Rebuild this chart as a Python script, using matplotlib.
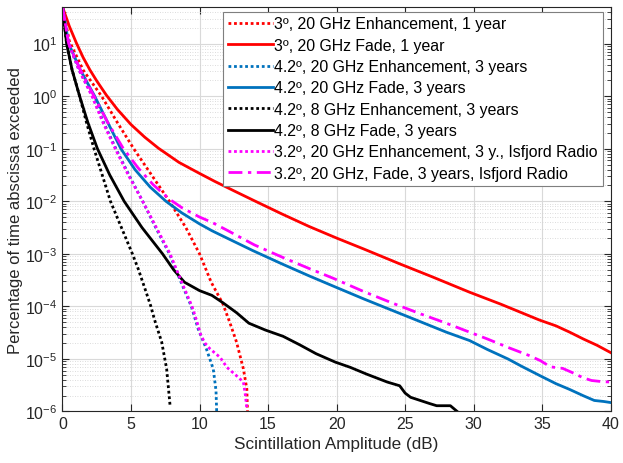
import numpy as np
import matplotlib
matplotlib.use("Agg")
import matplotlib.pyplot as plt
from matplotlib.ticker import FixedLocator, NullFormatter

plt.rcParams["font.family"] = ["Liberation Sans", "DejaVu Sans"]
plt.rcParams["mathtext.fontset"] = "custom"
plt.rcParams["mathtext.rm"] = "Liberation Sans"

# Данные: амплитуда (дБ) и log10 процента времени
red_dot_x = [0, 0.5, 1.5, 2.85, 4.0, 5.2, 6.5, 7.8, 9.0, 10.0, 10.85, 11.7, 12.2, 12.7, 13.2, 13.45, 13.5]
red_dot_y = [1.70, 1.05, 0.5, 0.0, -0.5, -1.0, -1.5, -2.0, -2.5, -3.0, -3.54, -3.95, -4.3, -4.68, -5.19, -5.57, -6.0]

red_x = [0, 0.5, 1.0, 1.5, 2.0, 2.5, 3.2, 4.0, 5.0, 6.0, 7.0, 8.5, 10, 11.1, 12.5, 14, 16, 18, 20, 22,
         24.6, 27, 29.7, 32, 34.8, 36, 37, 38, 39, 40]
red_y = [1.70, 1.33, 1.02, 0.74, 0.50, 0.29, 0.02, -0.25, -0.54, -0.78, -0.99, -1.26, -1.47, -1.62, -1.80,
         -1.99, -2.24, -2.48, -2.70, -2.91, -3.19, -3.44, -3.73, -3.96, -4.26, -4.37, -4.49, -4.62, -4.74, -4.88]

blue_dot_x = [0, 0.45, 1.2, 2.2, 3.0, 3.9, 4.85, 5.85, 6.8, 7.8, 8.65, 9.4, 9.9, 10.5, 11.0, 11.2, 11.25]
blue_dot_y = [1.70, 1.0, 0.5, 0.0, -0.5, -1.0, -1.5, -2.0, -2.5, -3.0, -3.54, -4.0, -4.43, -4.81, -5.19, -5.6, -6.0]

blue_x = [0, 0.45, 1.3, 2.35, 3.3, 4.26, 5.3, 6.4, 7.55, 8.7, 10, 10.9, 12, 13.9, 16, 18, 19.9, 22, 24, 26.1,
          28, 29.7, 31, 32.5, 33.5, 34.85, 36, 37, 38, 38.8, 39.5, 40]
blue_y = [1.70, 1.0, 0.5, 0.0, -0.5, -1.0, -1.4, -1.73, -2.0, -2.22, -2.43, -2.56, -2.70, -2.94, -3.19, -3.42,
          -3.63, -3.86, -4.07, -4.29, -4.49, -4.65, -4.82, -5.0, -5.14, -5.32, -5.47, -5.58, -5.70, -5.79, -5.81, -5.83]

black_dot_x = [0, 0.3, 0.7, 1.25, 1.75, 2.3, 2.9, 3.5, 4.3, 5.1, 5.53, 6.0, 6.45, 6.7, 7.24, 7.6, 7.85]
black_dot_y = [1.70, 1.0, 0.5, 0.0, -0.5, -1.0, -1.5, -2.0, -2.5, -3.0, -3.29, -3.65, -4.0, -4.24, -4.68, -5.19, -5.89]

black_x = [0, 0.3, 0.7, 1.25, 1.85, 2.55, 3.45, 4.5, 5.8, 7.3, 8.1, 8.9, 10.0, 10.9, 11.7, 12.7, 13.6, 14.8,
           16.1, 17.3, 18.5, 19.9, 21, 22.2, 23.7, 24.6, 25.0, 25.4, 26.1, 26.8, 27.3, 28.3, 28.8]
black_y = [1.70, 1.0, 0.5, 0.0, -0.5, -1.0, -1.5, -2.0, -2.5, -3.0, -3.3, -3.54, -3.70, -3.79, -3.93, -4.12,
           -4.32, -4.45, -4.57, -4.73, -4.90, -5.06, -5.16, -5.29, -5.44, -5.51, -5.65, -5.73, -5.79, -5.85,
           -5.89, -5.89, -6.0]

mag_dot_x = [0, 0.45, 1.2, 2.15, 2.95, 3.85, 4.8, 5.85, 6.85, 7.85, 8.7, 9.45, 9.75, 10.1, 10.4, 10.77, 11.5,
             12.0, 12.7, 13.2, 13.35, 13.45]
mag_dot_y = [1.70, 1.0, 0.5, 0.0, -0.5, -1.0, -1.5, -2.0, -2.5, -3.0, -3.54, -4.0, -4.24, -4.55, -4.7, -4.81,
             -4.97, -5.16, -5.32, -5.44, -5.7, -5.95]

mag_x = [0, 0.45, 1.3, 2.3, 3.3, 4.4, 5.5, 6.6, 7.8, 8.7, 10, 10.9, 12, 14, 16, 18, 19.8, 22, 24, 26.1, 28,
         29.7, 31, 32.5, 34, 34.85, 35.6, 36.5, 37.2, 38, 38.6, 39.3, 40]
mag_y = [1.70, 1.0, 0.5, 0.0, -0.5, -0.98, -1.36, -1.68, -1.96, -2.12, -2.30, -2.40, -2.55, -2.83, -3.06,
         -3.28, -3.47, -3.72, -3.93, -4.14, -4.32, -4.49, -4.62, -4.78, -4.93, -5.03, -5.15, -5.18, -5.26,
         -5.36, -5.41, -5.43, -5.44]

labels = [
    "3º, 20 GHz Enhancement, 1 year",
    "3º, 20 GHz Fade, 1 year",
    "4.2º, 20 GHz Enhancement, 3 years",
    "4.2º, 20 GHz Fade, 3 years",
    "4.2º, 8 GHz Enhancement, 3 years",
    "4.2º, 8 GHz Fade, 3 years",
    "3.2º, 20 GHz Enhancement, 3 y., Isfjord Radio",
    "3.2º, 20 GHz, Fade, 3 years, Isfjord Radio",
]

x_ticks = [0, 5, 10, 15, 20, 25, 30, 35, 40]
y_ticks = [1e-6, 1e-5, 1e-4, 1e-3, 1e-2, 1e-1, 1e0, 1e1]

dot = (0, (1, 1))
dashdot = (0, (5, 2, 1.2, 2))
red = "#ff0000"
blue = "#0072bd"
mag = "#ff00ff"

series = [
    (red_dot_x, red_dot_y, red, dot),
    (red_x, red_y, red, "-"),
    (blue_dot_x, blue_dot_y, blue, dot),
    (blue_x, blue_y, blue, "-"),
    (black_dot_x, black_dot_y, "black", dot),
    (black_x, black_y, "black", "-"),
    (mag_dot_x, mag_dot_y, mag, dot),
    (mag_x, mag_y, mag, dashdot),
]

fig = plt.figure(figsize=(6.23, 4.64), dpi=100)
ax = fig.add_axes([0.1003, 0.111, 0.88, 0.872])

for (x, y, c, ls), lab in zip(series, labels):
    ax.semilogy(x, 10 ** np.array(y), color=c, linestyle=ls, linewidth=2, label=lab)

ax.set_xlim(0, 40)
ax.set_ylim(1e-6, 50)
ax.set_xticks(x_ticks)
ax.set_yticks(y_ticks)
minor = [m * 10.0 ** e for e in range(-6, 2) for m in range(2, 10)]
ax.yaxis.set_minor_locator(FixedLocator(minor))
ax.yaxis.set_minor_formatter(NullFormatter())

dark = "#262626"
ax.grid(True, which="major", color="#d9d9d9", linewidth=0.8, linestyle="-")
ax.grid(True, which="minor", axis="y", color="#d0d0d0", linewidth=0.6, linestyle=(0, (1, 2)))
ax.set_axisbelow(True)
ax.tick_params(which="both", direction="in", top=True, right=True, colors=dark, labelsize=11.5)
ax.tick_params(which="major", length=5)
ax.tick_params(which="minor", length=3)
for s in ax.spines.values():
    s.set_color(dark)
    s.set_linewidth(0.8)

ax.set_xlabel("Scintillation Amplitude (dB)", fontsize=12.3, color=dark, labelpad=3)
ax.set_ylabel("Percentage of time abscissa exceeded", fontsize=12, color=dark, labelpad=2)

leg = ax.legend(loc="upper right", bbox_to_anchor=(0.985, 0.988), borderaxespad=0, fontsize=11.4,
                handlelength=2.85, handletextpad=0.1, labelspacing=0.4, borderpad=0.3,
                fancybox=False, framealpha=1, edgecolor="#7f7f7f")
leg.get_frame().set_linewidth(0.8)

plt.savefig("out.png", dpi=100)
